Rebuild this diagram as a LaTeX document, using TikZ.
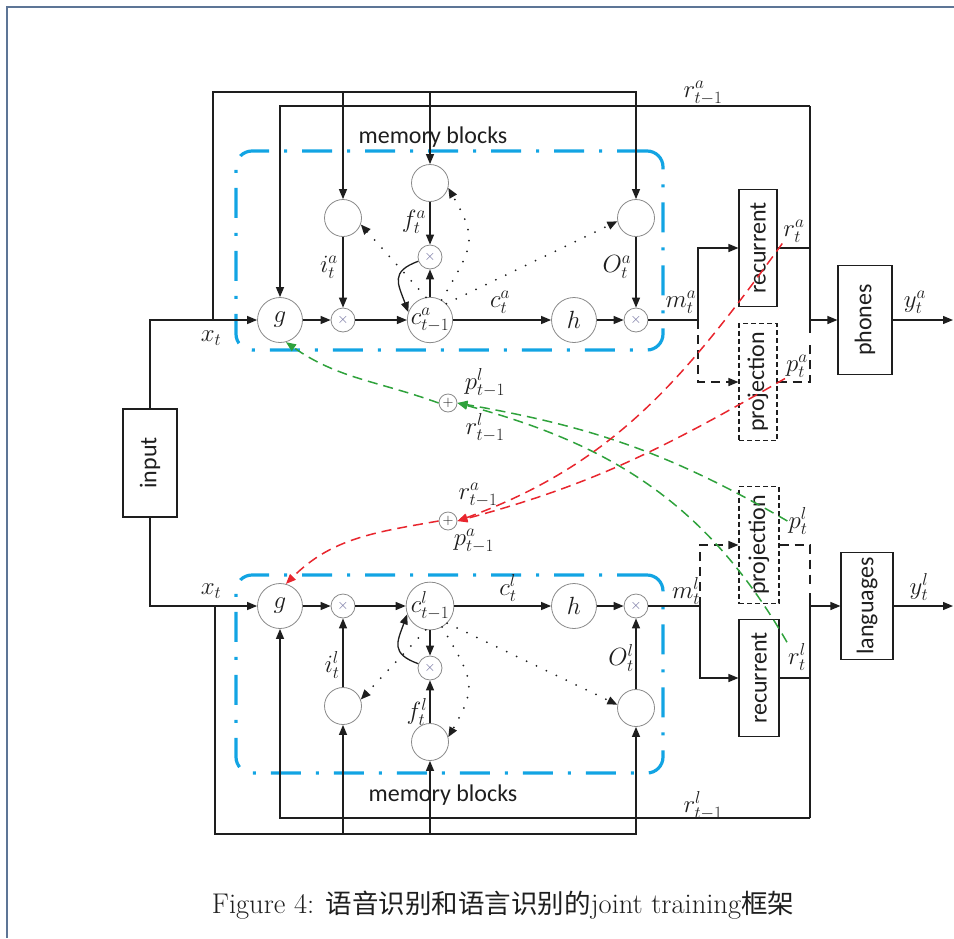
\documentclass[tikz,border=0pt]{standalone}
\usepackage{fontspec}
\setsansfont{Carlito}
\newfontfamily\cjkfont[Scale=0.93]{Noto Sans CJK SC}
\usetikzlibrary{arrows.meta,positioning,calc}
\definecolor{ink}{HTML}{1E1E1E}
\definecolor{ring}{HTML}{8A8A8A}
\definecolor{blockline}{HTML}{12A4E3}
\definecolor{speechline}{HTML}{E8262E}
\definecolor{langline}{HTML}{2FA23C}
\definecolor{pageline}{HTML}{5D7596}
\definecolor{opmark}{HTML}{6A6A9A}

\begin{document}
\begin{tikzpicture}[
  x=1pt, y=1pt, color=ink,
  font=\sffamily\fontsize{24}{28}\selectfont,
  unit/.style={circle, draw=ring, line width=0.8pt, minimum size=45pt, inner sep=0pt,
               font=\fontsize{27}{30}\selectfont},
  cell/.style={unit, font=\fontsize{23}{25}\selectfont},
  gate/.style={circle, draw=ring, line width=0.8pt, minimum size=37pt, inner sep=0pt},
  mult/.style={circle, draw=ring, line width=0.8pt, minimum size=24pt, inner sep=0pt,
               font=\fontsize{14}{14}\selectfont, text=opmark},
  summ/.style={mult, minimum size=18pt, text=ink},
  recbox/.style={draw, line width=1.1pt, minimum width=38pt, minimum height=117pt, inner sep=0pt},
  proj/.style={recbox, dash pattern=on 5pt off 3pt},
  outbox/.style={draw, line width=1.1pt, minimum width=54pt, minimum height=108pt, inner sep=0pt},
  block/.style={draw=blockline, line width=3.2pt, rounded corners=16pt, inner sep=0pt,
                dash pattern=on 30pt off 15pt on 3pt off 15pt},
  wire/.style={line width=1.3pt},
  arr/.style={wire, -{Triangle[length=10pt,width=8pt]}},
  darr/.style={arr, dash pattern=on 9pt off 6pt},
  dwire/.style={wire, dash pattern=on 9pt off 6pt},
  peep/.style={line width=2pt, line cap=round, dash pattern=on 0pt off 11pt,
               -{Triangle[length=10pt,width=8pt]}},
  tospeech/.style={line width=1.5pt, color=speechline, dash pattern=on 10pt off 6pt,
                   -{Triangle[length=10pt,width=8pt]}},
  tolang/.style={tospeech, color=langline},
  lbl/.style={font=\fontsize{24}{26}\selectfont, inner sep=1pt},
]
\useasboundingbox (0,0) rectangle (954,-938);
\draw[pageline, line width=2pt] (954,-7) -- (7,-7) -- (7,-938);

% ---- memory blocks (dash-dot frames) ----
\node[block, minimum width=427pt, minimum height=199pt] (mem_a) at (449.5,-250.5) {};
\node[block, minimum width=427pt, minimum height=198pt] (mem_l) at (449.5,-674) {};
\node (mb_a) at (433,-137) {memory blocks};
\node (mb_l) at (443,-795) {memory blocks};

% ---- speech cell (top) ----
\node[unit] (g_a) at (280,-320) {$g$};
\node[mult] (mi_a) at (343,-320) {$\times$};
\node[cell] (c_a) at (430,-320) {$c^{a}_{t-1}$};
\node[unit] (h_a) at (574,-320) {$h$};
\node[mult] (mo_a) at (636,-320) {$\times$};
\node[gate] (i_a) at (343,-218) {};
\node[gate] (f_a) at (430,-183) {};
\node[mult] (mf_a) at (430,-257) {$\times$};
\node[gate] (o_a) at (636,-218) {};

% ---- language cell (bottom) ----
\node[unit] (g_l) at (280,-606) {$g$};
\node[mult] (mi_l) at (343,-606) {$\times$};
\node[cell] (c_l) at (430,-606) {$c^{l}_{t-1}$};
\node[unit] (h_l) at (574,-606) {$h$};
\node[mult] (mo_l) at (636,-606) {$\times$};
\node[gate] (i_l) at (343,-706) {};
\node[gate] (f_l) at (430,-742) {};
\node[mult] (mf_l) at (430,-668) {$\times$};
\node[gate] (o_l) at (636,-708) {};

% ---- layers ----
\node[outbox] (input) at (150,-463) {\rotatebox{90}{input}};
\node[recbox] (rec_a) at (758,-248) {\rotatebox{90}{recurrent}};
\node[proj] (proj_a) at (758,-382) {\rotatebox{90}{projection}};
\node[outbox, minimum height=109pt] (phones) at (865,-320) {\rotatebox{90}{phones}};
\node[proj, minimum width=40pt] (proj_l) at (759,-545) {\rotatebox{90}{projection}};
\node[recbox, minimum width=40pt] (rec_l) at (759,-678) {\rotatebox{90}{recurrent}};
\node[outbox, minimum width=52pt, minimum height=107pt] (languages) at (867,-606) {\rotatebox{90}{languages}};

% ---- sums of the other task's state ----
\node[summ] (sum_l) at (448,-403) {$+$};
\node[summ] (sum_a) at (448,-521) {$+$};

% ---- labels ----
\node[lbl] (xt_a) at (211,-338) {$x_t$};
\node[lbl] (it_a) at (329,-267) {$i^{a}_{t}$};
\node[lbl] (ft_a) at (414,-222) {$f^{a}_{t}$};
\node[lbl] (ot_a) at (617,-267) {$O^{a}_{t}$};
\node[lbl] (ct_a) at (500,-302) {$c^{a}_{t}$};
\node[lbl] (mt_a) at (681,-302) {$m^{a}_{t}$};
\node[lbl] (rt_a) at (794,-231) {$r^{a}_{t}$};
\node[lbl] (pt_a) at (797,-366) {$p^{a}_{t}$};
\node[lbl] (rp_a) at (703,-93) {$r^{a}_{t-1}$};
\node[lbl] (yt_a) at (915,-302) {$y^{a}_{t}$};
\node[lbl] (xt_l) at (211,-591) {$x_t$};
\node[lbl] (it_l) at (332,-665) {$i^{l}_{t}$};
\node[lbl] (ft_l) at (417,-712) {$f^{l}_{t}$};
\node[lbl] (ot_l) at (621,-658) {$O^{l}_{t}$};
\node[lbl] (ct_l) at (508,-588) {$c^{l}_{t}$};
\node[lbl] (mt_l) at (686,-591) {$m^{l}_{t}$};
\node[lbl] (rt_l) at (797,-657) {$r^{l}_{t}$};
\node[lbl] (pt_l) at (798,-521) {$p^{l}_{t}$};
\node[lbl] (rp_l) at (703,-806) {$r^{l}_{t-1}$};
\node[lbl] (yt_l) at (919,-587) {$y^{l}_{t}$};
\node[lbl] (sp_l) at (485,-383) {$p^{l}_{t-1}$};
\node[lbl] (sr_l) at (485,-428) {$r^{l}_{t-1}$};
\node[lbl] (sr_a) at (478,-495) {$r^{a}_{t-1}$};
\node[lbl] (sp_a) at (474,-541) {$p^{a}_{t-1}$};

% ---- speech wiring ----
\coordinate (xa) at (213,-320);
\coordinate (topa) at (213,-92);
\coordinate (ra) at (810,-106);
\coordinate (ra_end) at (810,-333);
\coordinate (ya) at (810,-320);
\coordinate (ma) at (698,-320);
\coordinate (ya_end) at (953,-320);
\draw[arr] (input.north) |- (g_a.west);
\draw[arr] (xa) -- (topa) -| (o_a.north);
\draw[arr] (topa -| i_a.north) -- (i_a.north);
\draw[arr] (topa -| f_a.north) -- (f_a.north);
\draw[arr] (ra) -| (g_a.north);
\draw[wire] (ra) -- (ra_end);
\draw[wire] (rec_a.east) -- (rec_a.east -| ra);
\draw[arr] (ya) -- (phones.west);
\draw[arr] (phones.east) -- (ya_end);
\draw[wire] (mo_a.east) -- (ma);
\draw[arr] (ma) |- (rec_a.west);
\draw[darr] (ma) |- (proj_a.west);
\draw[dwire] (proj_a.east) -| ($(ra_end)+(0,-8)$);
\draw[arr] (g_a) -- (mi_a);
\draw[arr] (mi_a) -- (c_a);
\draw[arr] (c_a) -- (h_a);
\draw[arr] (h_a) -- (mo_a);
\draw[arr] (i_a) -- (mi_a);
\draw[arr] (f_a) -- (mf_a);
\draw[arr] (c_a) -- (mf_a);
\draw[arr] (o_a) -- (mo_a);
\draw[arr] (mf_a.200) to[out=200, in=110, looseness=1.5] (c_a.160);
\draw[peep] (c_a.100) -- (i_a.-20);
\draw[peep] (c_a.60) to[out=60, in=-60, looseness=1.4] (f_a.-15);
\draw[peep] (c_a.north east) -- (o_a.190);

% ---- language wiring ----
\coordinate (xl) at (215,-606);
\coordinate (botl) at (215,-834);
\coordinate (rl) at (810,-818);
\coordinate (rl_end) at (810,-593);
\coordinate (yl) at (810,-606);
\coordinate (ml) at (700,-606);
\coordinate (yl_end) at (953,-606);
\draw[arr] (input.south) |- (g_l.west);
\draw[arr] (xl) -- (botl) -| (o_l.south);
\draw[arr] (botl -| i_l.south) -- (i_l.south);
\draw[arr] (botl -| f_l.south) -- (f_l.south);
\draw[arr] (rl) -| (g_l.south);
\draw[wire] (rl) -- (rl_end);
\draw[wire] (rec_l.east) -- (rec_l.east -| rl);
\draw[arr] (yl) -- (languages.west);
\draw[arr] (languages.east) -- (yl_end);
\draw[wire] (mo_l.east) -- (ml);
\draw[arr] (ml) |- (rec_l.west);
\draw[darr] (ml) |- (proj_l.west);
\draw[dwire] (proj_l.east) -| ($(rl_end)+(0,8)$);
\draw[arr] (g_l) -- (mi_l);
\draw[arr] (mi_l) -- (c_l);
\draw[arr] (c_l) -- (h_l);
\draw[arr] (h_l) -- (mo_l);
\draw[arr] (i_l) -- (mi_l);
\draw[arr] (f_l) -- (mf_l);
\draw[arr] (c_l) -- (mf_l);
\draw[arr] (o_l) -- (mo_l);
\draw[arr] (mf_l.160) to[out=160, in=-110, looseness=1.5] (c_l.200);
\draw[peep] (c_l.-100) -- (i_l.20);
\draw[peep] (c_l.-60) to[out=-60, in=60, looseness=1.4] (f_l.15);
\draw[peep] (c_l.south east) -- (o_l.170);

% ---- joint training: each task reads the other's state ----
\draw[tolang] (pt_l.west) to[out=150, in=-10] (sum_l.east);
\draw[tolang] (rt_l.north west) to[out=120, in=-15] (sum_l.east);
\draw[tolang] (sum_l.west) to[out=160, in=-35] (g_a.-75);
\draw[tospeech] (rt_a.south west) to[out=234, in=20] (sum_a.east);
\draw[tospeech] (pt_a.south west) to[out=210, in=15] (sum_a.east);
\draw[tospeech] (sum_a.west) to[out=190, in=45] (g_l.75);

% ---- caption ----
\node[font=\rmfamily\fontsize{28.5}{33}\selectfont] (caption) at (503,-905)
  {Figure 4: {\cjkfont 语音识别和语言识别的}joint training{\cjkfont 框架}};
\end{tikzpicture}
\end{document}
